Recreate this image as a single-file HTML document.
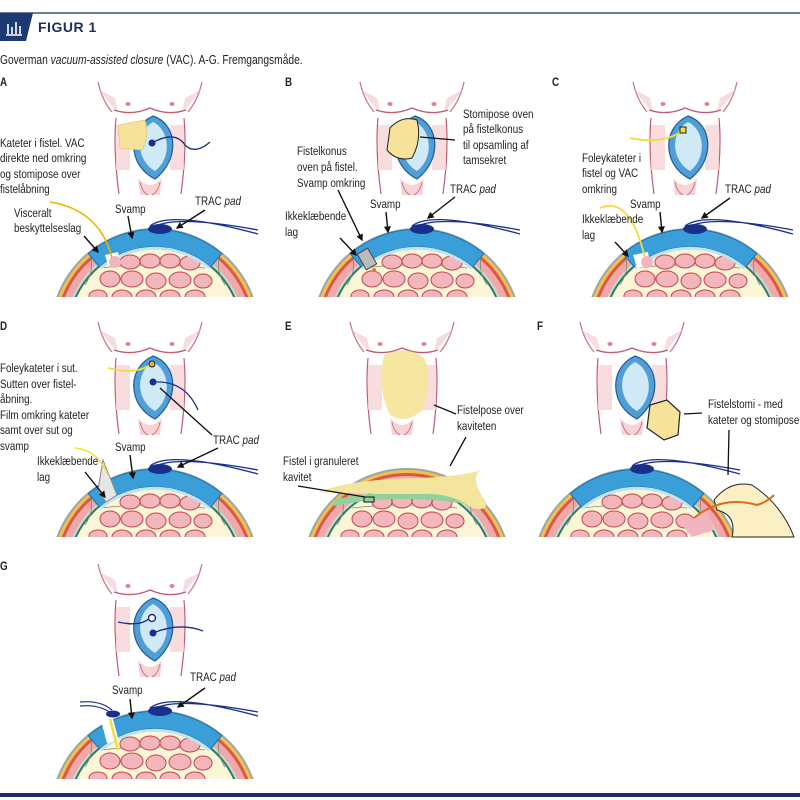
<!DOCTYPE html>
<html><head><meta charset="utf-8"><style>
html,body{margin:0;padding:0;background:#fff;width:800px;height:800px;overflow:hidden}
svg{display:block}
.t{font-family:"Liberation Sans Narrow","Liberation Sans",sans-serif;font-size:12px;fill:#222}
text.t, .t text{transform-box:fill-box;transform-origin:left center;transform:scaleX(.82)}
.h{font-family:"Liberation Sans",sans-serif;font-weight:bold;font-size:12px;fill:#1b2e5e}
</style></head><body>
<svg width="800" height="800" viewBox="0 0 800 800" xmlns="http://www.w3.org/2000/svg">
<defs>
<marker id="ar" viewBox="0 0 10 10" refX="8" refY="5" markerWidth="5" markerHeight="5" orient="auto"><path d="M0,0L10,5L0,10z" fill="#111"/></marker>
<clipPath id="cp" clipPathUnits="userSpaceOnUse"><rect x="-100" y="0" width="500" height="297"/></clipPath>
<g id="torso">
 <path d="M98,82 Q102,100 112,112" fill="none" stroke="#c77a88" stroke-width="1.3"/>
 <path d="M202,82 Q198,100 188,112" fill="none" stroke="#c77a88" stroke-width="1.3"/>
 <path d="M100,90 Q110,105 118,112 L115,98z" fill="#f7dcdf"/>
 <path d="M200,90 Q190,105 182,112 L185,98z" fill="#f7dcdf"/>
 <path d="M114,110 Q132,116 150,108 Q168,116 186,110" fill="none" stroke="#c05a70" stroke-width="1.3"/>
 <ellipse cx="128" cy="104" rx="2.6" ry="2" fill="#d88"/><ellipse cx="172" cy="104" rx="2.6" ry="2" fill="#d88"/>
 <path d="M116,118 Q113,150 119,194" fill="none" stroke="#c05a70" stroke-width="1.2"/>
 <path d="M184,118 Q187,150 181,194" fill="none" stroke="#c05a70" stroke-width="1.2"/>
 <rect x="116" y="125" width="14" height="45" fill="#f8d3d6" opacity=".8"/>
 <rect x="170" y="125" width="14" height="45" fill="#f8d3d6" opacity=".8"/>
 <path d="M138,178 Q150,192 162,178 L160,195 L140,195z" fill="#f8d3d6"/>
 <path d="M140,182 Q142,192 148,195 M160,182 Q158,192 152,195" fill="none" stroke="#c77a88" stroke-width="1"/>
</g>
<g id="wound">
 <path d="M153,116 C178,124 180,160 155,179 C128,166 126,128 153,116Z" fill="#4f9fd6" stroke="#1f5a9a" stroke-width="1.2"/>
 <path d="M153,122 C170,130 172,158 155,171 C136,160 135,132 153,122Z" fill="#cfe9f6"/>
</g>
<g id="sec" clip-path="url(#cp)">
 <circle cx="155" cy="333" r="105" fill="#9aa6ad"/>
 <circle cx="155" cy="333" r="103" fill="#f1c24a"/>
 <circle cx="155" cy="333" r="100" fill="#d9574e"/>
 <circle cx="155" cy="333" r="97" fill="#f0a8a8"/>
 <circle cx="155" cy="333" r="90" fill="#c9dccf"/>
 <circle cx="155" cy="333" r="88" fill="#2f7a6a"/>
 <circle cx="155" cy="333" r="86" fill="#fbf6d6"/>
 <path d="M85,285 Q95,270 90,255 M225,285 Q215,270 220,255 M100,268 Q150,262 205,268" fill="none" stroke="#7a8a70" stroke-width=".8"/>
 <g fill="#f3b6ba" stroke="#c4434e" stroke-width="1">
 <ellipse cx="130" cy="262" rx="10" ry="7"/><ellipse cx="150" cy="261" rx="10" ry="7"/><ellipse cx="170" cy="261" rx="10" ry="7"/><ellipse cx="190" cy="263" rx="10" ry="7"/>
 <ellipse cx="110" cy="279" rx="10" ry="8"/><ellipse cx="132" cy="279" rx="11" ry="8"/><ellipse cx="156" cy="281" rx="10" ry="8"/><ellipse cx="180" cy="280" rx="11" ry="8"/><ellipse cx="203" cy="281" rx="9" ry="7"/>
 <ellipse cx="98" cy="296" rx="9" ry="6"/><ellipse cx="122" cy="297" rx="10" ry="7"/><ellipse cx="146" cy="297" rx="10" ry="7"/><ellipse cx="170" cy="297" rx="10" ry="7"/><ellipse cx="195" cy="297" rx="10" ry="7"/>
 </g>
</g>
<g id="sp">
 <path d="M88.2,253.6 A104,104 0 0 1 221.8,253.6 L210.6,267.1 A86,86 0 0 0 99.4,267.1Z" fill="#3a9fd9" stroke="#1d6fa5" stroke-width="1"/>
 <path d="M99.4,267.1 A86,86 0 0 1 210.6,267.1 L208.6,269.4 A83,83 0 0 0 101.4,269.4Z" fill="#bfe3f2"/>
</g>
<g id="pad">
 <path d="M150,226 Q170,210 258,234 M152,228 Q172,214 258,230" fill="none" stroke="#1a2f8a" stroke-width="1.3"/>
 <ellipse cx="160" cy="229" rx="12" ry="5" fill="#1a2f8a"/>
</g>
</defs>

<!-- header -->
<line x1="0" y1="13" x2="800" y2="13" stroke="#1b2e5e" stroke-width="1.3"/>
<path d="M0,13 L33,13 L26,41 L0,41z" fill="#1b3a72"/>
<path d="M8,34 L8,24 M12,34 L12,27 M16,34 L16,22 M20,34 L20,26 M6,35 L22,35" stroke="#fff" stroke-width="1.6"/>
<text x="38" y="32" class="h" style="font-size:14px;letter-spacing:.5px">FIGUR 1</text>
<text x="0" y="64" class="t" style="font-size:12.5px">Goverman <tspan font-style="italic">vacuum-assisted closure</tspan> (VAC). A-G. Fremgangsmåde.</text>
<rect x="0" y="793" width="800" height="4" fill="#1b2e5e"/>

<g class="t" style="font-weight:bold"><text x="0" y="86">A</text><text x="285" y="86">B</text><text x="552" y="86">C</text><text x="0" y="330">D</text><text x="285" y="330">E</text><text x="537" y="330">F</text><text x="0" y="570">G</text></g>

<!-- A -->
<use href="#torso"/><use href="#wound"/>
<path d="M118,125 L145,120 Q150,135 142,150 L120,148z" fill="#f7e29a" stroke="#d8c070" stroke-width=".6"/>
<circle cx="152" cy="143" r="3.5" fill="#1a2f8a"/>
<path d="M152,143 Q175,130 185,145 Q195,155 210,142" fill="none" stroke="#1a2f8a" stroke-width="1.3"/>
<use href="#sec"/><use href="#sp"/><use href="#pad"/>
<path d="M105,255 L118,252 L120,262 L108,265z" fill="#fff"/>
<circle cx="115" cy="262" r="6" fill="#f2b5c0"/>
<path d="M50,202 Q100,210 112,258" fill="none" stroke="#f0b400" stroke-width="1.6"/>
<g class="t"><text x="0" y="147">Kateter i fistel. VAC</text><text x="0" y="162">direkte ned omkring</text><text x="0" y="178">og stomipose over</text><text x="0" y="193">fistelåbning</text>
<text x="14" y="217">Visceralt</text><text x="14" y="232">beskyttelseslag</text><text x="115" y="213">Svamp</text><text x="195" y="205">TRAC <tspan font-style="italic">pad</tspan></text></g>
<g stroke="#111" stroke-width="1.4" marker-end="url(#ar)"><line x1="84" y1="236" x2="98" y2="252"/><line x1="128" y1="216" x2="132" y2="238"/><line x1="205" y1="210" x2="177" y2="228"/></g>

<!-- B -->
<g transform="translate(262,0)">
<use href="#torso"/><use href="#wound"/>
<path d="M128,128 Q140,115 155,120 Q160,140 150,158 Q135,162 125,150z" fill="#f7e29a" stroke="#222" stroke-width="1"/>
<use href="#sec"/><use href="#sp"/><use href="#pad"/>
<rect x="99" y="250" width="12" height="18" fill="#bbb" stroke="#444" transform="rotate(-30 105 259)"/>
<circle cx="112" cy="270" r="2" fill="#e08020"/>
</g>
<line x1="455" y1="140" x2="420" y2="137" stroke="#111" stroke-width="1.3"/>
<g class="t"><text x="297" y="155">Fistelkonus</text><text x="297" y="171">oven på fistel.</text><text x="297" y="187">Svamp omkring</text>
<text x="285" y="220">Ikkeklæbende</text><text x="285" y="236">lag</text><text x="370" y="208">Svamp</text><text x="450" y="193">TRAC <tspan font-style="italic">pad</tspan></text>
<text x="463" y="118">Stomipose oven</text><text x="463" y="133">på fistelkonus</text><text x="463" y="149">til opsamling af</text><text x="463" y="164">tamsekret</text></g>
<g stroke="#111" stroke-width="1.4" marker-end="url(#ar)"><line x1="338" y1="190" x2="362" y2="240"/><line x1="340" y1="238" x2="356" y2="255"/><line x1="386" y1="212" x2="388" y2="232"/><line x1="455" y1="197" x2="428" y2="218"/></g>

<!-- C -->
<g transform="translate(535,0)">
<use href="#torso"/><use href="#wound"/>
<path d="M95,138 Q130,145 148,130" fill="none" stroke="#f2dd3a" stroke-width="1.8"/>
<rect x="145" y="127" width="6" height="6" fill="#f2dd3a" stroke="#222"/>
<use href="#sec"/><use href="#sp"/><use href="#pad"/>
<path d="M98,255 L113,252 L115,266 L102,268z" fill="#fff"/>
<circle cx="112" cy="262" r="6" fill="#f2b5c0"/>
<path d="M65,208 Q95,195 110,258" fill="none" stroke="#f2dd3a" stroke-width="1.8"/>
</g>
<g class="t"><text x="582" y="162">Foleykateter i</text><text x="582" y="177">fistel og VAC</text><text x="582" y="193">omkring</text>
<text x="630" y="208">Svamp</text><text x="582" y="223">Ikkeklæbende</text><text x="582" y="239">lag</text><text x="725" y="193">TRAC <tspan font-style="italic">pad</tspan></text></g>
<g stroke="#111" stroke-width="1.4" marker-end="url(#ar)"><line x1="615" y1="242" x2="628" y2="256"/><line x1="660" y1="212" x2="662" y2="232"/><line x1="730" y1="198" x2="702" y2="218"/></g>

<!-- D -->
<g transform="translate(0,240)">
<use href="#torso"/><use href="#wound"/>
<path d="M108,128 Q135,135 150,125" fill="none" stroke="#f2dd3a" stroke-width="1.8"/>
<circle cx="152" cy="124" r="3" fill="#e0b060" stroke="#222"/>
<circle cx="153" cy="142" r="3.5" fill="#1a2f8a"/>
<path d="M153,142 Q185,140 198,170" fill="none" stroke="#1a2f8a" stroke-width="1.3"/>
<use href="#sec"/><use href="#sp"/><use href="#pad"/>
<path d="M103,220 L117,255 L106,262 L98,250z" fill="#e6e6e6" stroke="#888"/>
<path d="M75,208 Q98,210 108,235" fill="none" stroke="#f2dd3a" stroke-width="1.5"/>
</g>
<line x1="160" y1="388" x2="212" y2="435" stroke="#111" stroke-width="1.3"/>
<g class="t"><text x="0" y="372">Foleykateter i sut.</text><text x="0" y="388">Sutten over fistel-</text><text x="0" y="403">åbning.</text><text x="0" y="419">Film omkring kateter</text><text x="0" y="434">samt over sut og</text><text x="0" y="450">svamp</text>
<text x="37" y="465">Ikkeklæbende</text><text x="37" y="481">lag</text><text x="115" y="451">Svamp</text><text x="213" y="444">TRAC <tspan font-style="italic">pad</tspan></text></g>
<g stroke="#111" stroke-width="1.4" marker-end="url(#ar)"><line x1="85" y1="472" x2="105" y2="497"/><line x1="130" y1="455" x2="133" y2="478"/><line x1="218" y1="448" x2="178" y2="467"/></g>

<!-- E -->
<g transform="translate(252,240)">
<use href="#torso"/>
<path d="M132,115 Q155,105 172,118 Q182,140 170,170 Q155,185 138,175 Q125,150 132,115z" fill="#f6e7a0"/>
<use href="#sec"/>
<path d="M80,260 Q150,245 228,260 L226,266 Q150,252 82,266z" fill="#8fd39a"/>
<rect x="112" y="257" width="10" height="5" fill="#8fd39a" stroke="#111"/>
</g>
<path d="M305,503 Q320,480 420,478 Q465,476 480,470 Q470,480 485,500 Q490,512 472,508 Q450,492 420,494 Q340,494 320,492 Q310,496 305,503z" fill="#f4e59e"/>
<line x1="434" y1="405" x2="456" y2="414" stroke="#111" stroke-width="1.3"/>
<line x1="450" y1="466" x2="466" y2="437" stroke="#111" stroke-width="1.3"/>
<line x1="298" y1="486" x2="365" y2="497" stroke="#111" stroke-width="1.3"/>
<g class="t"><text x="457" y="414">Fistelpose over</text><text x="457" y="430">kaviteten</text><text x="283" y="465">Fistel i granuleret</text><text x="283" y="481">kavitet</text></g>

<!-- F -->
<g transform="translate(482,240)">
<use href="#torso"/><use href="#wound"/>
<path d="M168,165 L185,160 L198,172 L196,195 L182,200 L165,188z" fill="#f7e29a" stroke="#222" stroke-width="1.2"/>
<use href="#sec"/><use href="#sp"/><use href="#pad"/>
<path d="M200,285 L225,270 L232,290 L210,297z" fill="#f2b5c0"/>
<path d="M232,260 Q248,240 270,245 Q300,265 312,297 L250,297 Q255,275 235,270z" fill="#fbefc4" stroke="#222"/>
<path d="M212,278 Q240,255 275,265 Q285,262 292,255" fill="none" stroke="#e06a1a" stroke-width="2"/>
</g>
<line x1="684" y1="414" x2="702" y2="413" stroke="#111" stroke-width="1.3"/>
<line x1="729" y1="430" x2="728" y2="475" stroke="#111" stroke-width="1.3"/>
<g class="t"><text x="708" y="408">Fistelstomi - med</text><text x="708" y="424">kateter og stomipose</text></g>

<!-- G -->
<g transform="translate(0,482)">
<use href="#torso"/><use href="#wound"/>
<path d="M118,140 Q140,145 150,136" fill="none" stroke="#1a2f8a" stroke-width="1.4"/>
<circle cx="152" cy="136" r="3.5" fill="#fff" stroke="#1a2f8a" stroke-width="1.4"/>
<circle cx="153" cy="151" r="3.5" fill="#1a2f8a"/>
<path d="M153,151 Q180,140 203,149" fill="none" stroke="#1a2f8a" stroke-width="1.4"/>
<use href="#sec"/><use href="#sp"/><use href="#pad"/>
<path d="M80,220 Q100,218 112,228 M80,224 Q100,222 112,232" fill="none" stroke="#1a2f8a" stroke-width="1.2"/>
<ellipse cx="113" cy="232" rx="7" ry="3.5" fill="#1a2f8a"/>
<rect x="104" y="238" width="12" height="22" fill="#fff" transform="rotate(-15 110 249)"/>
<path d="M110,237 L118,268" stroke="#f2dd3a" stroke-width="2.5"/>
</g>
<g class="t"><text x="112" y="694">Svamp</text><text x="190" y="681">TRAC <tspan font-style="italic">pad</tspan></text></g>
<g stroke="#111" stroke-width="1.4" marker-end="url(#ar)"><line x1="130" y1="699" x2="132" y2="718"/><line x1="205" y1="688" x2="178" y2="707"/></g>
</svg>
</body></html>
